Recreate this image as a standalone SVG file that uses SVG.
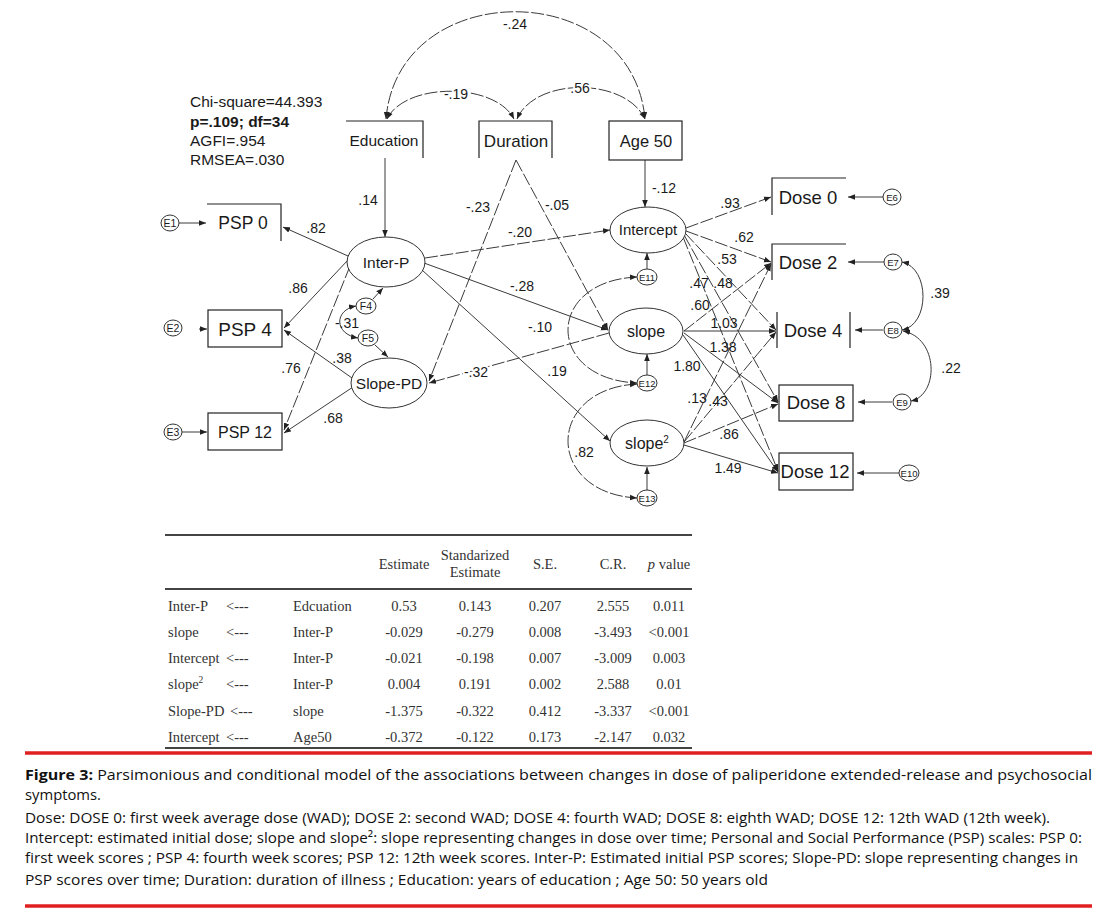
<svg xmlns="http://www.w3.org/2000/svg" width="1105" height="913" viewBox="0 0 1105 913">
<style>
.ln{stroke:#3a3a3a;stroke-width:1;fill:none}
.dl{stroke-dasharray:13 2.5}
.bx{fill:none;stroke:#222;stroke-width:1.2}
.el{fill:#fff;stroke:#333;stroke-width:1}
.t{font-family:"Liberation Sans",Arial,sans-serif;fill:#1a1a1a;text-anchor:middle}
.lb{font-size:14px}
.sm{font-size:9.5px}
.halo{paint-order:stroke;stroke:#fff;stroke-width:4px;stroke-linejoin:round}
.st{font-family:"Liberation Sans",Arial,sans-serif;font-size:15.5px;fill:#1a1a1a}
.tb{font-family:"Liberation Serif","Times New Roman",serif;font-size:14.5px;fill:#333}
.tc{text-anchor:middle}
.cap{font-family:"Open Sans","Noto Sans",sans-serif;font-size:15px;fill:#111}
.red{stroke:#e02020;stroke-width:3.5}
.rule{stroke:#444;stroke-width:2}
</style>
<defs>
<marker id="a" viewBox="0 0 10 10" refX="10" refY="5" markerWidth="7" markerHeight="7" markerUnits="userSpaceOnUse" orient="auto-start-reverse">
<path d="M0,1 L10,5 L0,9 z" fill="#222"/>
</marker>
</defs>
<rect width="1105" height="913" fill="#fff"/>

<g id="fit-stats">
<text class="st" x="190" y="107">Chi-square=44.393</text>
<text class="st" x="190" y="127" font-weight="bold">p=.109; df=34</text>
<text class="st" x="190" y="146">AGFI=.954</text>
<text class="st" x="190" y="165">RMSEA=.030</text>
</g>

<g id="connectors">
<path class="ln dl" d="M386,119 C398,-24 632,-24 645,119" marker-start="url(#a)" marker-end="url(#a)"/>
<path class="ln dl" d="M387,119 C405,82 495,82 514,119" marker-start="url(#a)" marker-end="url(#a)"/>
<path class="ln dl" d="M517,119 C535,77 625,77 645,119" marker-start="url(#a)" marker-end="url(#a)"/>
<line class="ln" x1="385" y1="158" x2="385" y2="237" marker-end="url(#a)"/>
<line class="ln" x1="645" y1="160" x2="645" y2="207" marker-end="url(#a)"/>
<line class="ln dl" x1="516" y1="160" x2="429" y2="381" marker-end="url(#a)"/>
<line class="ln dl" x1="516" y1="160" x2="608" y2="330" marker-end="url(#a)"/>
<line class="ln" x1="179" y1="223" x2="206" y2="223" marker-end="url(#a)"/>
<line class="ln" x1="199" y1="329" x2="207" y2="329" marker-end="url(#a)"/>
<line class="ln" x1="182" y1="432" x2="207" y2="432" marker-end="url(#a)"/>
<line class="ln" x1="348" y1="256" x2="283" y2="227" marker-end="url(#a)"/>
<line class="ln" x1="348" y1="260" x2="284" y2="328" marker-end="url(#a)"/>
<line class="ln dl" x1="350" y1="266" x2="284" y2="430" marker-end="url(#a)"/>
<line class="ln" x1="352" y1="378" x2="284" y2="330" marker-end="url(#a)"/>
<line class="ln" x1="353" y1="387" x2="284" y2="433" marker-end="url(#a)"/>
<line class="ln" x1="373" y1="299" x2="383" y2="288" marker-end="url(#a)"/>
<line class="ln" x1="375" y1="345" x2="388" y2="357" marker-end="url(#a)"/>
<path class="ln" d="M356,306 C334,310 334,334 358,338" marker-start="url(#a)" marker-end="url(#a)"/>
<line class="ln dl" x1="425" y1="258" x2="610" y2="230" marker-end="url(#a)"/>
<line class="ln" x1="424" y1="263" x2="608" y2="330" marker-end="url(#a)"/>
<line class="ln" x1="422" y1="270" x2="610" y2="441" marker-end="url(#a)"/>
<line class="ln dl" x1="609" y1="333" x2="429" y2="383" marker-end="url(#a)"/>
<line class="ln" x1="647" y1="269" x2="647" y2="253" marker-end="url(#a)"/>
<line class="ln" x1="647" y1="375" x2="647" y2="354" marker-end="url(#a)"/>
<line class="ln" x1="647" y1="490" x2="647" y2="467" marker-end="url(#a)"/>
<path class="ln dl" d="M637,277 C545,281 545,379 637,383" marker-start="url(#a)" marker-end="url(#a)"/>
<path class="ln dl" d="M637,384 C545,389 545,493 637,498" marker-start="url(#a)" marker-end="url(#a)"/>
<line class="ln dl" x1="686" y1="228" x2="771" y2="197" marker-end="url(#a)"/>
<line class="ln dl" x1="686" y1="231" x2="771" y2="262" marker-end="url(#a)"/>
<line class="ln dl" x1="685" y1="233" x2="776" y2="330" marker-end="url(#a)"/>
<line class="ln dl" x1="684" y1="235" x2="778" y2="402" marker-end="url(#a)"/>
<line class="ln dl" x1="683" y1="237" x2="778" y2="471" marker-end="url(#a)"/>
<line class="ln dl" x1="684" y1="331" x2="771" y2="263" marker-end="url(#a)"/>
<line class="ln" x1="684" y1="331" x2="776" y2="331" stroke-width="1.8" marker-end="url(#a)"/>
<line class="ln" x1="684" y1="333" x2="778" y2="403" marker-end="url(#a)"/>
<line class="ln" x1="683" y1="335" x2="778" y2="472" marker-end="url(#a)"/>
<line class="ln dl" x1="684" y1="442" x2="771" y2="264" marker-end="url(#a)"/>
<line class="ln dl" x1="684" y1="442" x2="776" y2="332" marker-end="url(#a)"/>
<line class="ln dl" x1="684" y1="443" x2="778" y2="404" marker-end="url(#a)"/>
<line class="ln" x1="684" y1="445" x2="778" y2="473" marker-end="url(#a)"/>
<line class="ln" x1="883" y1="197" x2="848" y2="197" marker-end="url(#a)"/>
<line class="ln" x1="884" y1="262" x2="848" y2="262" marker-end="url(#a)"/>
<line class="ln" x1="883" y1="330" x2="855" y2="330" marker-end="url(#a)"/>
<line class="ln" x1="892" y1="402" x2="858" y2="402" stroke="#777" marker-end="url(#a)"/>
<line class="ln" x1="899" y1="473" x2="857" y2="473" marker-end="url(#a)"/>
<path class="ln" d="M902,262 C930,268 930,325 902,330" marker-start="url(#a)" marker-end="url(#a)"/>
<path class="ln" d="M903,331 C939,338 939,395 911,401" marker-start="url(#a)" marker-end="url(#a)"/>
</g>

<g id="labels" class="t lb">
<text x="515" y="29">-.24</text>
<text class="halo" x="456" y="99">-.19</text>
<text class="halo" x="580" y="93">.56</text>
<text x="368" y="205">.14</text>
<text x="316" y="233">.82</text>
<text x="298" y="293">.86</text>
<text x="347" y="328">-.31</text>
<text x="291" y="373">.76</text>
<text x="342" y="363">.38</text>
<text x="333" y="423">.68</text>
<text x="478" y="212">-.23</text>
<text x="557" y="210">-.05</text>
<text x="520" y="237">-.20</text>
<text x="522" y="291">-.28</text>
<text x="540" y="332">-.10</text>
<text class="halo" x="476" y="377">-.32</text>
<text x="557" y="376">.19</text>
<text x="584" y="457">.82</text>
<text x="664" y="193">-.12</text>
<text x="730" y="208">.93</text>
<text x="744" y="242">.62</text>
<text x="727" y="264">.53</text>
<text x="699" y="288">.47</text>
<text x="723" y="288">.48</text>
<text x="700" y="310">.60</text>
<text x="724" y="328">1.03</text>
<text x="723" y="352">1.38</text>
<text x="687" y="371">1.80</text>
<text x="697" y="403">.13</text>
<text x="718" y="406">.43</text>
<text x="729" y="439">.86</text>
<text x="728" y="473">1.49</text>
<text x="940" y="298">.39</text>
<text x="951" y="373">.22</text>
</g>

<g id="node-education"><path class="bx" d="M346,121 H423 V158"/><text class="t" x="384" y="146" font-size="15.5">Education</text></g>
<g id="node-duration"><path class="bx" d="M479,158 V121 H552 V158"/><text class="t" x="516" y="147" font-size="17">Duration</text></g>
<g id="node-age50"><rect class="bx" x="609" y="121" width="73" height="39"/><text class="t" x="646" y="147" font-size="16.5">Age 50</text></g>

<g id="node-psp0"><path class="bx" d="M207,204 H281 V241"/><text class="t" x="243" y="229" font-size="17.5">PSP 0</text></g>
<g id="node-psp4"><rect class="bx" x="208" y="310" width="74" height="37"/><text class="t" x="245" y="336" font-size="19">PSP 4</text></g>
<g id="node-psp12"><rect class="bx" x="208" y="413" width="74" height="37"/><text class="t" x="245" y="438" font-size="16">PSP 12</text></g>

<g id="node-e1"><ellipse class="el" cx="170" cy="223" rx="9" ry="8"/><text class="t" x="170" y="227" font-size="10.5">E1</text></g>
<g id="node-e2"><ellipse class="el" cx="173" cy="328" rx="9" ry="8"/><text class="t" x="173" y="332" font-size="10.5">E2</text></g>
<g id="node-e3"><ellipse class="el" cx="173" cy="432" rx="9" ry="8"/><text class="t" x="173" y="436" font-size="10.5">E3</text></g>

<g id="node-interp"><ellipse class="el" cx="386" cy="262" rx="39" ry="25"/><text class="t" x="386" y="268" font-size="15.5">Inter-P</text></g>
<g id="node-slopepd"><ellipse class="el" cx="389" cy="383" rx="38" ry="25"/><text class="t" x="389" y="389" font-size="15.5">Slope-PD</text></g>
<g id="node-f4"><ellipse class="el" cx="366" cy="306" rx="10" ry="8"/><text class="t" x="366" y="310" font-size="10.5">F4</text></g>
<g id="node-f5"><ellipse class="el" cx="368" cy="338" rx="10" ry="8"/><text class="t" x="368" y="342" font-size="10.5">F5</text></g>

<g id="node-intercept"><ellipse class="el" cx="648" cy="230" rx="38" ry="23"/><text class="t" x="648" y="235" font-size="15">Intercept</text></g>
<g id="node-slope"><ellipse class="el" cx="646" cy="331" rx="37" ry="23"/><text class="t" x="646" y="337" font-size="16">slope</text></g>
<g id="node-slope2"><ellipse class="el" cx="647" cy="443" rx="37" ry="23"/><text class="t" x="647" y="449" font-size="16">slope<tspan font-size="10" dy="-6">2</tspan></text></g>
<g id="node-e11"><ellipse class="el" cx="647" cy="277" rx="10" ry="8"/><text class="t sm" x="647" y="280.5">E11</text></g>
<g id="node-e12"><ellipse class="el" cx="647" cy="383" rx="10" ry="8"/><text class="t sm" x="647" y="386.5">E12</text></g>
<g id="node-e13"><ellipse class="el" cx="647" cy="498" rx="10" ry="8"/><text class="t sm" x="647" y="501.5">E13</text></g>

<g id="node-dose0"><path class="bx" d="M846,178 H772 V215"/><text class="t" x="808" y="204" font-size="18.5">Dose 0</text></g>
<g id="node-dose2"><path class="bx" d="M846,244 H772 V280"/><text class="t" x="808" y="269" font-size="18.5">Dose 2</text></g>
<g id="node-dose4"><path class="bx" d="M777,312 V348 M850,312 V348"/><text class="t" x="813" y="337" font-size="18.5">Dose 4</text></g>
<g id="node-dose8"><rect class="bx" x="779" y="385" width="74" height="36"/><text class="t" x="816" y="409" font-size="18.5">Dose 8</text></g>
<g id="node-dose12"><rect class="bx" x="779" y="453" width="74" height="37"/><text class="t" x="815" y="478" font-size="18.5">Dose 12</text></g>

<g id="node-e6"><ellipse class="el" cx="892" cy="197" rx="9" ry="8"/><text class="t sm" x="892" y="200.5">E6</text></g>
<g id="node-e7"><ellipse class="el" cx="893" cy="262" rx="9" ry="8"/><text class="t sm" x="893" y="265.5">E7</text></g>
<g id="node-e8"><ellipse class="el" cx="893" cy="330" rx="9" ry="8"/><text class="t sm" x="893" y="333.5">E8</text></g>
<g id="node-e9"><ellipse class="el" cx="902" cy="402" rx="9" ry="8"/><text class="t sm" x="902" y="405.5">E9</text></g>
<g id="node-e10"><ellipse class="el" cx="909" cy="473" rx="10" ry="8"/><text class="t sm" x="909" y="476.5">E10</text></g>

<g id="table">
<line class="rule" x1="165" y1="535" x2="692" y2="535"/>
<line class="rule" x1="165" y1="589" x2="692" y2="589"/>
<line class="rule" x1="165" y1="748" x2="692" y2="748"/>
<text class="tb tc" x="404" y="569">Estimate</text>
<text class="tb tc" x="475" y="560">Standarized</text>
<text class="tb tc" x="475" y="577">Estimate</text>
<text class="tb tc" x="545" y="569">S.E.</text>
<text class="tb tc" x="613" y="569">C.R.</text>
<text class="tb tc" x="669" y="569"><tspan font-style="italic">p</tspan> value</text>

<text class="tb" x="168" y="611">Inter-P</text><text class="tb" x="226" y="611">&lt;---</text><text class="tb" x="293" y="611">Edcuation</text>
<text class="tb tc" x="404" y="611">0.53</text><text class="tb tc" x="475" y="611">0.143</text><text class="tb tc" x="545" y="611">0.207</text><text class="tb tc" x="613" y="611">2.555</text><text class="tb tc" x="669" y="611">0.011</text>

<text class="tb" x="168" y="637">slope</text><text class="tb" x="226" y="637">&lt;---</text><text class="tb" x="293" y="637">Inter-P</text>
<text class="tb tc" x="404" y="637">-0.029</text><text class="tb tc" x="475" y="637">-0.279</text><text class="tb tc" x="545" y="637">0.008</text><text class="tb tc" x="613" y="637">-3.493</text><text class="tb tc" x="669" y="637">&lt;0.001</text>

<text class="tb" x="168" y="663">Intercept</text><text class="tb" x="226" y="663">&lt;---</text><text class="tb" x="293" y="663">Inter-P</text>
<text class="tb tc" x="404" y="663">-0.021</text><text class="tb tc" x="475" y="663">-0.198</text><text class="tb tc" x="545" y="663">0.007</text><text class="tb tc" x="613" y="663">-3.009</text><text class="tb tc" x="669" y="663">0.003</text>

<text class="tb" x="168" y="689">slope<tspan font-size="9.5" dy="-6">2</tspan></text><text class="tb" x="226" y="689">&lt;---</text><text class="tb" x="293" y="689">Inter-P</text>
<text class="tb tc" x="404" y="689">0.004</text><text class="tb tc" x="475" y="689">0.191</text><text class="tb tc" x="545" y="689">0.002</text><text class="tb tc" x="613" y="689">2.588</text><text class="tb tc" x="669" y="689">0.01</text>

<text class="tb" x="168" y="716">Slope-PD</text><text class="tb" x="230" y="716">&lt;---</text><text class="tb" x="293" y="716">slope</text>
<text class="tb tc" x="404" y="716">-1.375</text><text class="tb tc" x="475" y="716">-0.322</text><text class="tb tc" x="545" y="716">0.412</text><text class="tb tc" x="613" y="716">-3.337</text><text class="tb tc" x="669" y="716">&lt;0.001</text>

<text class="tb" x="168" y="742">Intercept</text><text class="tb" x="226" y="742">&lt;---</text><text class="tb" x="293" y="742">Age50</text>
<text class="tb tc" x="404" y="742">-0.372</text><text class="tb tc" x="475" y="742">-0.122</text><text class="tb tc" x="545" y="742">0.173</text><text class="tb tc" x="613" y="742">-2.147</text><text class="tb tc" x="669" y="742">0.032</text>
</g>

<g id="caption">
<line class="red" x1="25" y1="753" x2="1092" y2="753"/>
<text class="cap" x="25" y="780" textLength="1067" lengthAdjust="spacingAndGlyphs"><tspan font-weight="bold">Figure 3:</tspan> Parsimonious and conditional model of the associations between changes in dose of paliperidone extended-release and psychosocial</text>
<text class="cap" x="25" y="800" textLength="76" lengthAdjust="spacingAndGlyphs">symptoms.</text>
<text class="cap" x="25" y="823" textLength="1025" lengthAdjust="spacingAndGlyphs">Dose: DOSE 0: first week average dose (WAD); DOSE 2: second WAD; DOSE 4: fourth WAD; DOSE 8: eighth WAD; DOSE 12: 12th WAD (12th week).</text>
<text class="cap" x="25" y="843" textLength="1057" lengthAdjust="spacingAndGlyphs">Intercept: estimated initial dose; slope and slope²: slope representing changes in dose over time; Personal and Social Performance (PSP) scales: PSP 0:</text>
<text class="cap" x="25" y="863" textLength="1053" lengthAdjust="spacingAndGlyphs">first week scores ; PSP 4: fourth week scores; PSP 12: 12th week scores. Inter-P: Estimated initial PSP scores; Slope-PD: slope representing changes in</text>
<text class="cap" x="25" y="885" textLength="743" lengthAdjust="spacingAndGlyphs">PSP scores over time; Duration: duration of illness ; Education: years of education ; Age 50: 50 years old</text>
<line class="red" x1="25" y1="906" x2="1092" y2="906"/>
</g>
</svg>
